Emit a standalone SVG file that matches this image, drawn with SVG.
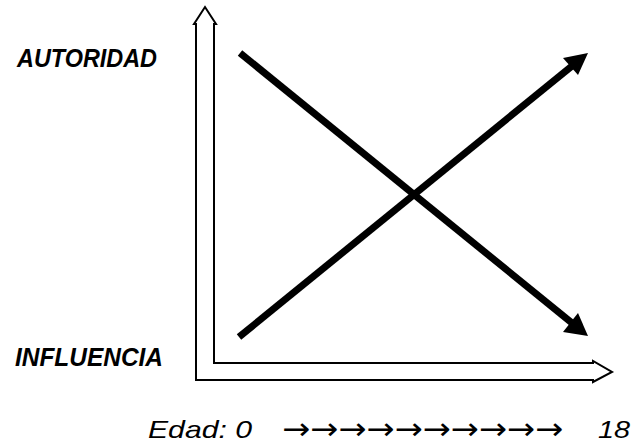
<svg xmlns="http://www.w3.org/2000/svg" width="633" height="447" viewBox="0 0 633 447">
<defs>
<style>
.lbl{font-family:"Liberation Sans",Arial,sans-serif;font-weight:bold;font-style:italic;font-size:26px;fill:#000}
.axis{font-family:"Liberation Sans",Arial,sans-serif;font-style:italic;font-size:24px;fill:#000}
.arr{font-family:"DejaVu Sans",sans-serif;font-size:30px;fill:#000}
.diag{stroke:#000;stroke-width:7;fill:none}
.head{fill:#000;stroke:none}
</style>
</defs>
<rect width="633" height="447" fill="#fff"/>
<g id="axes">
<polygon points="196,24 194,24 205,7 216,24 214,24 214,363 593,363 593,361 612,372 593,382 593,380 196,380" fill="#fff" stroke="#000" stroke-width="2" stroke-linejoin="miter"/>
</g>
<g id="autoridad-label">
<text class="lbl" x="17" y="67" textLength="140" lengthAdjust="spacingAndGlyphs">AUTORIDAD</text>
</g>
<g id="influencia-label">
<text class="lbl" x="15" y="366" textLength="148" lengthAdjust="spacingAndGlyphs">INFLUENCIA</text>
</g>
<g id="edad-label">
<text class="axis" x="148" y="438" textLength="104" lengthAdjust="spacingAndGlyphs">Edad: 0</text>
<text class="arr" x="282" y="439" textLength="281" lengthAdjust="spacingAndGlyphs">→→→→→→→→→→</text>
<text class="axis" x="598" y="438" textLength="32" lengthAdjust="spacingAndGlyphs">18</text>
</g>
<g id="connectors">
<line class="diag" x1="240" y1="53" x2="572" y2="323"/>
<polygon class="head" points="588,336 563,332 578,313"/>
<line class="diag" x1="239" y1="337" x2="572" y2="66"/>
<polygon class="head" points="588,53 563,58 578,75"/>
</g>
</svg>
